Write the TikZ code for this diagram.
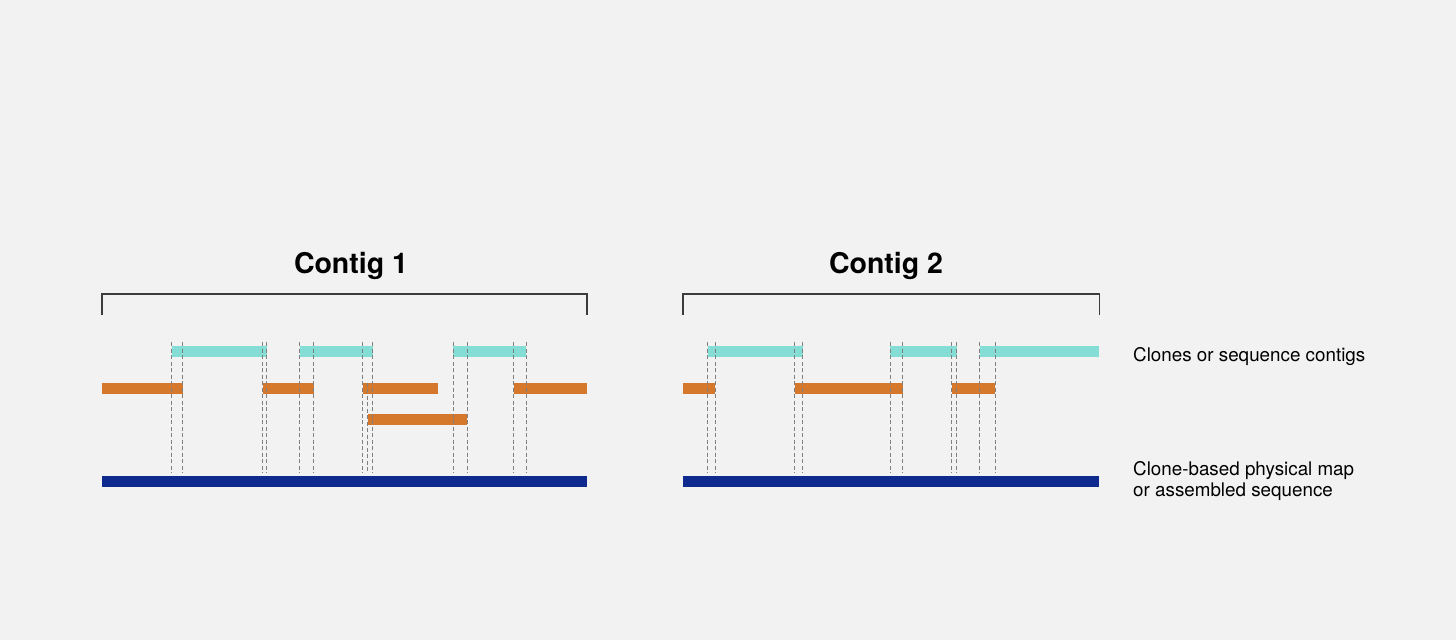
\documentclass[tikz,border=0pt]{standalone}
\usepackage{fontspec}
\setmainfont{TeX Gyre Heros}
\definecolor{bgcol}{HTML}{F2F2F2}
\definecolor{seqcol}{HTML}{84DED5}
\definecolor{clonecol}{HTML}{D6782B}
\definecolor{mapcol}{HTML}{0E2A8E}
\definecolor{guidecol}{HTML}{808080}
\definecolor{brackcol}{HTML}{3C3C3C}
\tikzset{
	seqbar/.style={rectangle, inner sep=0pt, minimum height=11pt, anchor=west, fill=seqcol},
	clonebar/.style={rectangle, inner sep=0pt, minimum height=11pt, anchor=west, fill=clonecol},
	mapbar/.style={rectangle, inner sep=0pt, minimum height=11pt, anchor=west, fill=mapcol},
	guide/.style={draw=guidecol, line width=1pt, dash pattern=on 4pt off 2.5pt},
	bracket/.style={draw=brackcol, line width=1.6pt},
	% titles over the brackets
	title/.style={font=\fontsize{28.5}{33}\selectfont\bfseries, inner sep=0pt, anchor=base},
	legend/.style={font=\fontsize{18.8}{21.7}\selectfont, inner sep=0pt, anchor=base west, align=left},
}

\begin{document}
\begin{tikzpicture}[x=1pt, y=-1pt]
	\fill[bgcol] (0,0) rectangle (1456,640);
	\useasboundingbox (0,0) rectangle (1456,640);
	
	% contig 1
	\node (m1) [mapbar, minimum width=484.6pt] at (101.7,481.2) {};
	\node (s1) [seqbar, minimum width=94.6pt] at (171.7,351.7) {};
	\node (s2) [seqbar, minimum width=73pt] at (299.3,351.7) {};
	\node (s3) [seqbar, minimum width=72.7pt] at (453,351.7) {};
	\node (c1) [clonebar, minimum width=80.6pt] at (101.7,388.5) {};
	\node (c2) [clonebar, minimum width=51pt] at (262.3,388.5) {};
	\node (c3) [clonebar, minimum width=75pt] at (362.3,388.5) {};
	\node (c4) [clonebar, minimum width=99.5pt] at (367.5,419) {};
	\node (c5) [clonebar, minimum width=72.6pt] at (513.7,388.5) {};
	
	% contig 2
	\node (m2) [mapbar, minimum width=416.3pt] at (682.7,481.2) {};
	\node (s4) [seqbar, minimum width=95pt] at (707.3,351.7) {};
	\node (s5) [seqbar, minimum width=66.3pt] at (890,351.7) {};
	\node (s6) [seqbar, minimum width=119.7pt] at (979.3,351.7) {};
	\node (c6) [clonebar, minimum width=32pt] at (682.7,388.5) {};
	\node (c7) [clonebar, minimum width=108pt] at (794.3,388.5) {};
	\node (c8) [clonebar, minimum width=43pt] at (951.7,388.5) {};
	
	\node (title1) [title] at (351,273.3) {Contig 1};
	\node (title2) [title] at (886,273.3) {Contig 2};
	\draw[bracket] (m1.west |- 0,315) |- (m1.east |- 0,293.7) -- (m1.east |- 0,315);
	\draw[bracket] (m2.west |- 0,315) |- (m2.east |- 0,293.7) -- (m2.east |- 0,315);
	
	\node (lab1) [legend] at (1133,361) {Clones or sequence contigs};
	\node (lab2) [legend] at (1133,496.7) {Clone-based physical map\\or assembled sequence};
	
	\coordinate (gtop) at (0,342);
	\coordinate (gbot) at (0,473);
	\begin{scope}[guide]
		\draw (s1.west |- gtop) -- (s1.west |- gbot);
		\draw (c1.east |- gtop) -- (c1.east |- gbot);
		\draw (c2.west |- gtop) -- (c2.west |- gbot);
		\draw (s1.east |- gtop) -- (s1.east |- gbot);
		\draw (s2.west |- gtop) -- (s2.west |- gbot);
		\draw (c2.east |- gtop) -- (c2.east |- gbot);
		\draw (c3.west |- gtop) -- (c3.west |- gbot);
		\draw (c4.west |- c3.north) -- (c4.west |- gbot);
		\draw (s2.east |- gtop) -- (s2.east |- gbot);
		\draw (s3.west |- gtop) -- (s3.west |- gbot);
		\draw (c4.east |- gtop) -- (c4.east |- gbot);
		\draw (c5.west |- gtop) -- (c5.west |- gbot);
		\draw (s3.east |- gtop) -- (s3.east |- gbot);
		
		\draw (s4.west |- gtop) -- (s4.west |- gbot);
		\draw (c6.east |- gtop) -- (c6.east |- gbot);
		\draw (c7.west |- gtop) -- (c7.west |- gbot);
		\draw (s4.east |- gtop) -- (s4.east |- gbot);
		\draw (s5.west |- gtop) -- (s5.west |- gbot);
		\draw (c7.east |- gtop) -- (c7.east |- gbot);
		\draw (c8.west |- gtop) -- (c8.west |- gbot);
		\draw (s5.east |- gtop) -- (s5.east |- gbot);
		\draw (s6.west |- gtop) -- (s6.west |- gbot);
		\draw (c8.east |- gtop) -- (c8.east |- gbot);
	\end{scope}
	
\end{tikzpicture}
\end{document}
